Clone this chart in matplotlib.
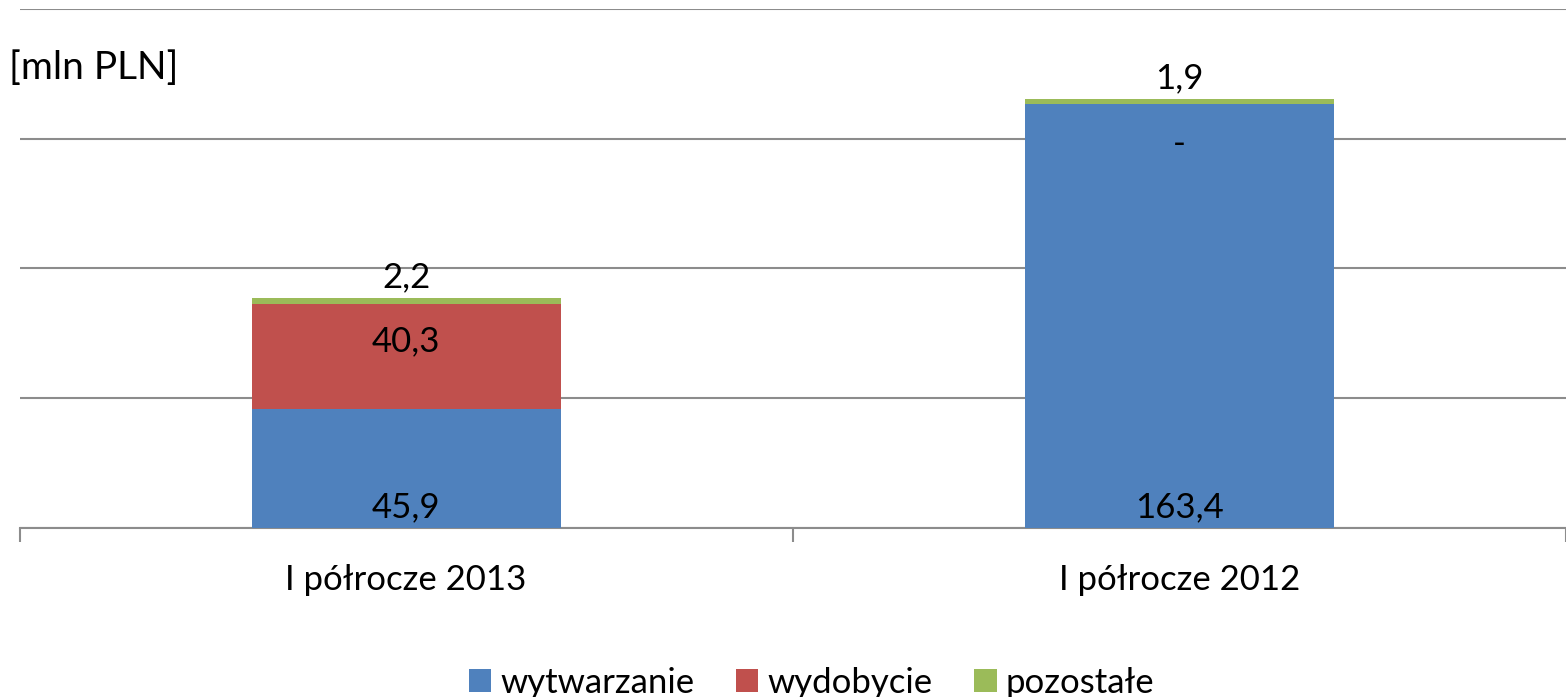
import numpy as np
import matplotlib.pyplot as plt

plt.rcParams['font.family'] = ['Lato', 'DejaVu Sans']

categories = ['I półrocze 2013', 'I półrocze 2012']
series = ['wytwarzanie', 'wydobycie', 'pozostałe']
wytwarzanie = [45.9, 163.4]
wydobycie = [40.3, 0.0]
pozostale = [2.2, 1.9]
colors = ['#4f81bd', '#c0504d', '#9bbb59']

fig = plt.figure(figsize=(15.66, 6.97), dpi=100)
ax = fig.add_axes([0.0125, 0.2425, 0.9875, 0.745])

x = np.arange(len(categories))
w = 0.4
b1 = ax.bar(x, wytwarzanie, w, color=colors[0], label=series[0], zorder=3)
bottom2 = np.array(wytwarzanie)
b2 = ax.bar(x, wydobycie, w, bottom=bottom2, color=colors[1], label=series[1], zorder=3)
bottom3 = bottom2 + np.array(wydobycie)
b3 = ax.bar(x, pozostale, w, bottom=bottom3, color=colors[2], label=series[2], zorder=3)

fs = 25
def fmt(v):
    return '-' if v == 0 else ('%.1f' % v).replace('.', ',')

for i in range(len(categories)):
    # wytwarzanie: przy podstawie
    ax.annotate(fmt(wytwarzanie[i]), (x[i], 0), xytext=(0, 15), textcoords='offset points',
                ha='center', va='center', fontsize=fs)
    # wydobycie: w środku segmentu
    if wydobycie[i] > 0:
        ax.annotate(fmt(wydobycie[i]), (x[i], bottom2[i] + wydobycie[i] / 2), xytext=(0, 11),
                    textcoords='offset points', ha='center', va='center', fontsize=fs)
    else:
        ax.annotate(fmt(wydobycie[i]), (x[i], bottom2[i]), xytext=(0, -29),
                    textcoords='offset points', ha='center', va='center', fontsize=fs)
    # pozostałe: nad słupkiem
    ax.annotate(fmt(pozostale[i]), (x[i], bottom3[i] + pozostale[i]), xytext=(0, 15),
                textcoords='offset points', ha='center', va='center', fontsize=fs)

ax.set_xlim(-0.5, 1.5)
ax.set_ylim(0, 200)
ax.set_yticks(np.arange(0, 201, 50))
ax.yaxis.grid(True, color='#8c8c8c', linewidth=1.5, zorder=0)
ax.tick_params(axis='y', left=False, labelleft=False)
for s in ['top', 'right', 'left']:
    ax.spines[s].set_visible(False)
ax.spines['bottom'].set_color('#8c8c8c')
ax.spines['bottom'].set_linewidth(1.5)

ax.set_xticks([-0.5, 0.5, 1.5])
ax.set_xticklabels([])
ax.set_xticks(x, minor=True)
ax.set_xticklabels(categories, minor=True, fontsize=fs)
ax.tick_params(axis='x', which='major', length=10, width=1.5, color='#8c8c8c', direction='out')
ax.tick_params(axis='x', which='minor', length=0, pad=26)

fig.text(0.006, 0.902, '[mln PLN]', fontsize=28, ha='left', va='center')

ax.legend(handles=[b1, b2, b3], loc='center', bbox_to_anchor=(0.512, -0.298),
          ncol=3, frameon=False, fontsize=fs, handlelength=0.65, handleheight=0.65,
          handletextpad=0.25, columnspacing=1.2)

fig.savefig('out.png', dpi=100)
